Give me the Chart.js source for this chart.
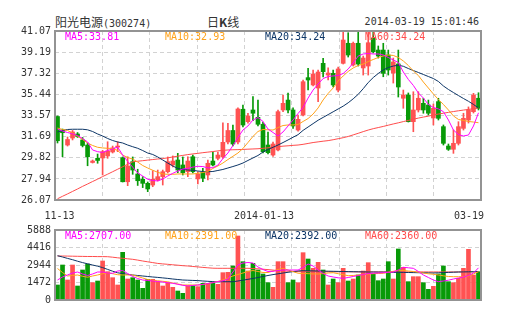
<!DOCTYPE html>
<html>
<head>
<meta charset="utf-8">
<script src="https://cdn.jsdelivr.net/npm/chart.js@4.4.1/dist/chart.umd.min.js"></script>
<style>
  body { margin: 0; background: #fff; }
  #wrap { position: relative; width: 505px; height: 330px; }
  canvas { position: absolute; left: 0; top: 0; }
  .t { position: absolute; top: 14px; height: 16px; line-height: 16px; color: #333; white-space: nowrap; }
  .mono { font-family: "DejaVu Sans Mono", monospace; font-size: 10px; }
  .cjk { font-family: "Noto Sans CJK SC", sans-serif; font-size: 12px; }
</style>
</head>
<body>
<div id="wrap">
  <div class="t" style="left:55px"><span class="cjk">阳光电源</span><span class="mono">(300274)</span></div>
  <div class="t cjk" style="left:207px">日<b>K</b>线</div>
  <div class="t mono" style="right:26px">2014-03-19 15:01:46</div>
  <canvas id="kline" width="505" height="330"></canvas>
  <canvas id="vol" width="505" height="330"></canvas>
</div>
<script>
// trading days 2013-11-13 .. 2014-03-19
const dates = [
  '11-13','11-14','11-15','11-18','11-19','11-20','11-21','11-22','11-25','11-26','11-27','11-28','11-29',
  '12-02','12-03','12-04','12-05','12-06','12-09','12-10','12-11','12-12','12-13','12-16','12-17','12-18',
  '12-19','12-20','12-23','12-24','12-25','12-26','12-27','12-30','12-31',
  '01-02','01-03','01-06','01-07','01-08','01-09','01-10','01-13','01-14','01-15','01-16','01-17','01-20',
  '01-21','01-22','01-23','01-24','01-27','01-28','01-29','01-30',
  '02-07','02-10','02-11','02-12','02-13','02-14','02-17','02-18','02-19','02-20','02-21','02-24','02-25',
  '02-26','02-27','02-28',
  '03-03','03-04','03-05','03-06','03-07','03-10','03-11','03-12','03-13','03-14','03-17','03-18','03-19'
];
const tickIdx = [0, 42, 84];
const tickText = ['11-13', '2014-01-13', '03-19'];
const priceTicks = [26.07, 27.94, 29.82, 31.69, 33.57, 35.44, 37.32, 39.19, 41.07];
const volTicks = [0, 1472, 2944, 4416, 5888];

const open = [
  33.48, 32.28, 30.95, 31.57, 31.93, 31.40, 30.95, 29.40, 29.77, 29.80,
  29.98, 30.33, 30.77, 29.82, 27.69, 29.47, 28.38, 27.91, 27.55, 27.40,
  27.85, 28.14, 28.58, 29.18, 29.62, 29.18, 28.58, 29.91, 27.94, 28.53,
  28.29, 29.53, 29.77, 29.89, 31.22, 32.24, 31.22, 34.12, 33.02, 34.06,
  33.41, 32.79, 30.95, 30.06, 30.51, 34.06, 34.94, 34.06, 32.28, 33.61,
  36.93, 36.28, 36.01, 38.20, 37.16, 37.31, 35.83, 38.20, 39.98, 38.05,
  39.98, 37.79, 37.96, 40.45, 39.38, 39.38, 38.94, 37.34, 38.14, 35.10,
  35.39, 33.02, 34.06, 34.65, 34.50, 33.35, 34.80, 32.58, 30.86, 30.57,
  31.10, 32.43, 33.17, 33.91, 35.10
];
const high = [
  33.53, 32.37, 31.66, 32.24, 32.06, 31.62, 31.13, 29.62, 30.15, 30.48,
  31.24, 30.86, 31.24, 29.89, 29.91, 29.89, 28.80, 28.14, 27.67, 28.67,
  28.73, 28.73, 29.89, 29.98, 30.21, 29.89, 29.91, 30.06, 28.58, 28.88,
  29.62, 30.33, 30.33, 32.93, 32.88, 32.73, 34.24, 34.50, 33.77, 35.24,
  34.94, 32.99, 32.10, 31.22, 34.06, 35.39, 35.57, 34.24, 33.61, 36.72,
  37.76, 37.61, 37.61, 38.65, 37.79, 37.61, 37.87, 41.00, 40.92, 40.09,
  41.07, 38.85, 41.00, 41.05, 39.74, 39.98, 39.38, 38.67, 39.38, 35.83,
  35.57, 35.68, 35.68, 35.10, 34.94, 34.59, 35.10, 32.73, 31.04, 32.28,
  33.02, 33.77, 34.33, 35.54, 35.59
];
const low = [
  31.13, 29.91, 30.86, 31.40, 31.62, 30.78, 29.11, 29.35, 29.33, 28.29,
  29.77, 30.24, 30.36, 27.67, 27.34, 28.35, 27.36, 27.17, 26.81, 27.25,
  27.76, 27.40, 28.47, 29.00, 28.49, 28.29, 28.14, 28.47, 27.49, 27.69,
  27.85, 29.09, 29.62, 29.75, 31.04, 30.86, 31.04, 32.55, 32.90, 33.11,
  32.64, 30.24, 30.15, 29.93, 30.42, 33.91, 33.79, 32.43, 32.19, 33.53,
  35.83, 36.19, 34.80, 36.99, 36.72, 36.10, 35.66, 38.14, 38.76, 37.96,
  37.96, 37.16, 37.16, 39.12, 38.67, 37.01, 37.16, 36.45, 35.21, 34.21,
  32.99, 32.13, 33.88, 33.77, 33.61, 32.73, 33.17, 30.95, 30.47, 30.21,
  30.95, 32.28, 32.90, 33.79, 34.06
];
const close = [
  31.33, 32.04, 31.44, 32.11, 31.71, 30.91, 29.91, 29.53, 29.58, 30.36,
  30.42, 30.69, 30.86, 27.69, 29.09, 28.73, 27.78, 27.55, 27.05, 27.91,
  28.14, 28.58, 29.47, 29.53, 28.73, 28.49, 29.53, 28.58, 28.38, 28.00,
  29.33, 29.18, 30.06, 31.19, 32.24, 31.04, 34.15, 32.73, 33.53, 33.77,
  32.79, 30.36, 30.27, 31.04, 33.91, 34.65, 34.06, 32.64, 33.23, 36.57,
  36.72, 37.25, 37.43, 37.46, 37.34, 36.28, 37.70, 40.27, 38.94, 39.98,
  38.14, 38.67, 40.03, 39.23, 38.85, 37.31, 37.61, 38.32, 36.10, 35.39,
  33.02, 34.06, 35.10, 34.06, 33.77, 34.21, 33.32, 31.10, 30.57, 31.10,
  32.58, 33.32, 34.06, 35.39, 34.21
];
const ma5 = [
  32.37, 32.19, 32.06, 31.95, 31.79, 31.53, 31.22, 30.51, 30.36, 30.29,
  30.46, 30.60, 30.77, 30.06, 29.49, 28.99, 28.46, 28.20, 27.91, 27.80,
  27.76, 27.93, 28.20, 28.44, 28.64, 28.82, 28.88, 28.99, 29.06, 29.04,
  28.92, 28.94, 29.16, 29.75, 30.24, 30.90, 31.62, 32.28, 32.64, 33.17,
  33.39, 33.04, 32.37, 32.06, 31.75, 32.11, 32.64, 33.17, 33.75, 34.28,
  35.12, 35.83, 36.37, 36.85, 37.03, 37.08, 37.12, 37.30, 37.70, 38.23,
  38.85, 39.03, 39.07, 39.03, 39.03, 38.94, 38.72, 38.50, 38.28, 37.43,
  36.77, 36.24, 35.57, 35.12, 34.55, 34.28, 34.15, 33.91, 33.17, 32.28,
  31.88, 31.75, 31.84, 32.64, 33.81
];
const ma10 = [
  32.46, 32.33, 32.24, 32.02, 31.72, 31.44, 31.13, 30.91, 30.75, 30.69,
  30.66, 30.64, 30.46, 30.06, 29.84, 29.71, 29.44, 29.13, 28.91, 28.71,
  28.53, 28.38, 28.35, 28.35, 28.38, 28.38, 28.38, 28.38, 28.44, 28.51,
  28.60, 28.87, 29.09, 29.35, 29.66, 29.95, 30.24, 30.64, 31.17, 31.71,
  32.15, 32.33, 32.30, 32.28, 32.50, 32.68, 32.73, 32.73, 32.77, 33.04,
  33.30, 33.70, 34.24, 34.95, 35.53, 36.01, 36.63, 37.08, 37.48, 37.79,
  38.01, 38.14, 38.36, 38.54, 38.72, 38.85, 38.94, 38.90, 38.72, 38.41,
  38.01, 37.52, 37.12, 36.54, 36.01, 35.48, 34.99, 34.55, 34.06, 33.53,
  33.22, 33.13, 33.04, 32.99, 32.93
];
const ma20 = [
  32.11, 32.24, 32.33, 32.35, 32.35, 32.35, 32.30, 32.15, 31.93, 31.75,
  31.53, 31.35, 31.22, 31.13, 30.95, 30.80, 30.66, 30.46, 30.24, 30.11,
  29.89, 29.62, 29.35, 29.09, 28.87, 28.78, 28.73, 28.71, 28.64, 28.60,
  28.58, 28.60, 28.69, 28.78, 28.91, 29.04, 29.18, 29.35, 29.58, 29.80,
  30.02, 30.33, 30.55, 30.75, 30.95, 31.17, 31.40, 31.64, 31.87, 32.25,
  32.55, 32.85, 33.15, 33.40, 33.65, 33.90, 34.15, 34.40, 34.70, 35.05,
  35.45, 35.95, 36.50, 36.94, 37.30, 37.61, 37.83, 37.96, 38.03, 37.94,
  37.74, 37.56, 37.39, 37.21, 37.03, 36.85, 36.59, 36.19, 35.88, 35.61,
  35.34, 35.08, 34.83, 34.55, 34.24
];
const ma60 = [
  26.18, 26.40, 26.61, 26.83, 27.05, 27.28, 27.49, 27.71, 27.92, 28.15,
  28.36, 28.58, 28.80, 29.02, 29.24, 29.46, 29.51, 29.56, 29.61, 29.66,
  29.71, 29.75, 29.81, 29.89, 29.96, 30.03, 30.10, 30.16, 30.21, 30.27,
  30.32, 30.37, 30.43, 30.48, 30.51, 30.53, 30.54, 30.56, 30.58, 30.60,
  30.62, 30.66, 30.70, 30.76, 30.80, 30.85, 30.88, 30.92, 30.95, 31.01,
  31.09, 31.17, 31.23, 31.29, 31.34, 31.42, 31.51, 31.60, 31.71, 31.85,
  31.99, 32.14, 32.28, 32.40, 32.50, 32.60, 32.71, 32.82, 32.92, 33.03,
  33.13, 33.24, 33.34, 33.43, 33.51, 33.62, 33.70, 33.77, 33.85, 33.92,
  33.99, 34.05, 34.11, 34.18, 34.24
];

const volume = [
  1262, 2944, 1682, 2944, 1178, 2523, 3028, 1458, 1598, 3280,
  2383, 1878, 1262, 4010, 1766, 1878, 1682, 981, 1738, 1738,
  1542, 1178, 1458, 1066, 757, 561, 1206, 1178, 1122, 1402,
  1402, 1458, 1318, 2299, 2327, 2860, 5383, 3224, 2439, 3084,
  2523, 2187, 1458, 1066, 3224, 3224, 1458, 1682, 1458, 3981,
  3448, 2664, 3168, 2523, 1262, 1766, 1458, 2664, 1598, 1766,
  2103, 2439, 3140, 2187, 1626, 1766, 3224, 1766, 4290, 2748,
  1542, 1962, 1962, 1458, 897, 1150, 2187, 2860, 1542, 1458,
  1822, 2664, 4262, 2103, 2383
];
const vma5 = [
  1682, 1935, 2103, 2271, 2355, 2187, 2061, 2187, 2355, 2355,
  2271, 2246, 2439, 2481, 2229, 1977, 1808, 1682, 1640, 1598,
  1556, 1514, 1447, 1405, 1321, 1236, 1178, 1220, 1262, 1304,
  1388, 1455, 1556, 1615, 1766, 2355, 2944, 3112, 3154, 3112,
  2776, 2565, 2397, 2414, 2481, 2523, 2523, 2523, 2523, 2734,
  3028, 2860, 2523, 2229, 2019, 1935, 1867, 1825, 1892, 1977,
  2061, 2145, 2229, 2254, 2271, 2296, 2330, 2355, 2523, 2750,
  2708, 2666, 2397, 2103, 1892, 1682, 1539, 1598, 1665, 1766,
  1850, 1935, 2061, 2271, 2707
];
const vma10 = [
  2649, 2313, 2019, 2061, 2103, 1993, 1918, 2019, 2103, 2212,
  2296, 2212, 2128, 2103, 2103, 2103, 1977, 1850, 1724, 1657,
  1615, 1573, 1531, 1430, 1346, 1262, 1262, 1262, 1262, 1304,
  1388, 1472, 1556, 1682, 1850, 2019, 2145, 2271, 2397, 2481,
  2397, 2313, 2313, 2439, 2565, 2666, 2523, 2380, 2254, 2229,
  2212, 2195, 2187, 2220, 2271, 2296, 2212, 2128, 2044, 2061,
  2103, 2145, 2187, 2212, 2229, 2246, 2330, 2414, 2498, 2481,
  2439, 2397, 2330, 2271, 2204, 2162, 2103, 2035, 1977, 1960,
  1960, 1960, 2019, 2187, 2391
];
const vma20 = [
  3726, 3617, 3499, 3390, 3263, 3146, 3045, 2944, 2843, 2725,
  2574, 2422, 2288, 2229, 2162, 2103, 2061, 2019, 1977, 1935,
  1901, 1859, 1817, 1766, 1724, 1682, 1665, 1648, 1632, 1598,
  1573, 1548, 1539, 1539, 1539, 1539, 1598, 1665, 1741, 1808,
  1892, 1977, 2061, 2136, 2204, 2271, 2330, 2389, 2448, 2464,
  2456, 2448, 2439, 2431, 2422, 2414, 2406, 2397, 2389, 2380,
  2372, 2364, 2355, 2355, 2347, 2347, 2338, 2330, 2330, 2322,
  2313, 2305, 2296, 2288, 2280, 2271, 2288, 2305, 2322, 2338,
  2355, 2364, 2372, 2380, 2392
];
const vma60 = [
  3701, 3701, 3692, 3684, 3676, 3667, 3659, 3659, 3650, 3650,
  3642, 3600, 3549, 3507, 3465, 3423, 3356, 3280, 3213, 3146,
  3078, 3036, 3003, 2961, 2927, 2885, 2860, 2818, 2784, 2742,
  2708, 2675, 2666, 2666, 2666, 2666, 2666, 2666, 2666, 2649,
  2624, 2591, 2557, 2515, 2473, 2439, 2422, 2405, 2389, 2385,
  2382, 2380, 2378, 2376, 2374, 2372, 2371, 2370, 2369, 2368,
  2367, 2366, 2366, 2365, 2365, 2364, 2364, 2364, 2363, 2363,
  2363, 2362, 2362, 2362, 2361, 2361, 2361, 2361, 2360, 2360,
  2360, 2360, 2360, 2360, 2360
];

const UP = '#ff5252';
const DOWN = '#089a08';
const MA_COLORS = ['#ff00ff', '#ffa21a', '#0c3566', '#ff4c4c'];
const GRID = '#d2d2d2';
const FONT = '"DejaVu Sans Mono", monospace';
const TXT = '#333';

const barColor = close.map((c, i) => c >= open[i] ? UP : DOWN);

function maLine(data, k) {
  return {
    type: 'line', data: data, borderColor: MA_COLORS[k], borderWidth: 1,
    pointRadius: 0, tension: 0, order: 0, xAxisID: 'x', yAxisID: 'y'
  };
}

// frame + MA legend text
function framePlugin(series, digits) {
  return {
    id: 'frame',
    afterDatasetsDraw(chart) {
      const { ctx, chartArea: a } = chart;
      ctx.save();
      ctx.font = '10px ' + FONT;
      ctx.textBaseline = 'middle';
      ctx.textAlign = 'left';
      ['MA5', 'MA10', 'MA20', 'MA60'].forEach((name, k) => {
        const arr = series[k];
        ctx.fillStyle = MA_COLORS[k];
        ctx.fillText(name + ':' + arr[arr.length - 1].toFixed(2), a.left + 10 + k * 100, a.top + 6);
      });
      ctx.restore();
    },
    afterDraw(chart) {
      const { ctx, chartArea: a } = chart;
      ctx.save();
      ctx.strokeStyle = '#939393';
      ctx.lineWidth = 2;
      ctx.strokeRect(a.left, a.top, a.right - a.left, a.bottom - a.top);
      ctx.restore();
    }
  };
}

const xLabels = {
  id: 'xLabels',
  afterDraw(chart) {
    const { ctx, chartArea: a } = chart;
    const sx = chart.scales.x;
    ctx.save();
    ctx.font = '10px ' + FONT;
    ctx.fillStyle = TXT;
    ctx.textBaseline = 'middle';
    tickIdx.forEach((idx, k) => {
      let px = sx.getPixelForValue(idx);
      if (k === tickIdx.length - 1) { ctx.textAlign = 'right'; px = a.right + 3; }
      else { ctx.textAlign = 'center'; if (k > 0) px -= 4; else px += 2; }
      ctx.fillText(tickText[k], px, a.bottom + 16);
    });
    ctx.restore();
  }
};

function scalesFor(min, max, ticks, fmt) {
  return {
    x: { type: 'category', display: false, offset: true },
    xg: {
      type: 'linear', position: 'bottom', min: 0, max: 8,
      afterBuildTicks: s => { s.ticks = [0, 1, 2, 3, 4, 5, 6, 7, 8].map(v => ({ value: v })); },
      afterFit: s => { s.height = 0; },
      ticks: { display: false },
      grid: { color: GRID, drawTicks: false },
      border: { display: false, dash: [4, 3] }
    },
    y: {
      min: min, max: max,
      afterBuildTicks: s => { s.ticks = ticks.map(v => ({ value: v })); },
      afterFit: s => { s.width = 55; },
      ticks: { font: { family: FONT, size: 10 }, color: TXT, padding: 4, callback: fmt },
      grid: { color: GRID, drawTicks: false },
      border: { display: false, dash: [4, 3] }
    }
  };
}

const common = {
  responsive: false,
  animation: false,
  events: [],
  plugins: { legend: { display: false }, tooltip: { enabled: false } }
};

new Chart(document.getElementById('kline'), {
  type: 'bar',
  data: {
    labels: dates,
    datasets: [
      maLine(ma5, 0), maLine(ma10, 1), maLine(ma20, 2), maLine(ma60, 3),
      {
        data: dates.map((d, i) => [low[i], high[i]]),
        backgroundColor: barColor, barThickness: 1, grouped: false, order: 2,
        xAxisID: 'x', yAxisID: 'y'
      },
      {
        data: dates.map((d, i) => [open[i], close[i]]),
        backgroundColor: barColor, barThickness: 4, grouped: false, minBarLength: 1, order: 1,
        xAxisID: 'x', yAxisID: 'y'
      }
    ]
  },
  options: Object.assign({}, common, {
    layout: { padding: { top: 31, bottom: 130, left: 0, right: 24 } },
    scales: scalesFor(26.07, 41.07, priceTicks, v => v.toFixed(2))
  }),
  plugins: [framePlugin([ma5, ma10, ma20, ma60]), xLabels]
});

new Chart(document.getElementById('vol'), {
  type: 'bar',
  data: {
    labels: dates,
    datasets: [
      maLine(vma5, 0), maLine(vma10, 1), maLine(vma20, 2), maLine(vma60, 3),
      {
        data: volume, backgroundColor: barColor, barThickness: 4, grouped: false, order: 1,
        xAxisID: 'x', yAxisID: 'y'
      }
    ]
  },
  options: Object.assign({}, common, {
    layout: { padding: { top: 230, bottom: 30, left: 0, right: 24 } },
    scales: scalesFor(0, 5888, volTicks, v => String(v))
  }),
  plugins: [framePlugin([vma5, vma10, vma20, vma60])]
});
</script>
</body>
</html>
